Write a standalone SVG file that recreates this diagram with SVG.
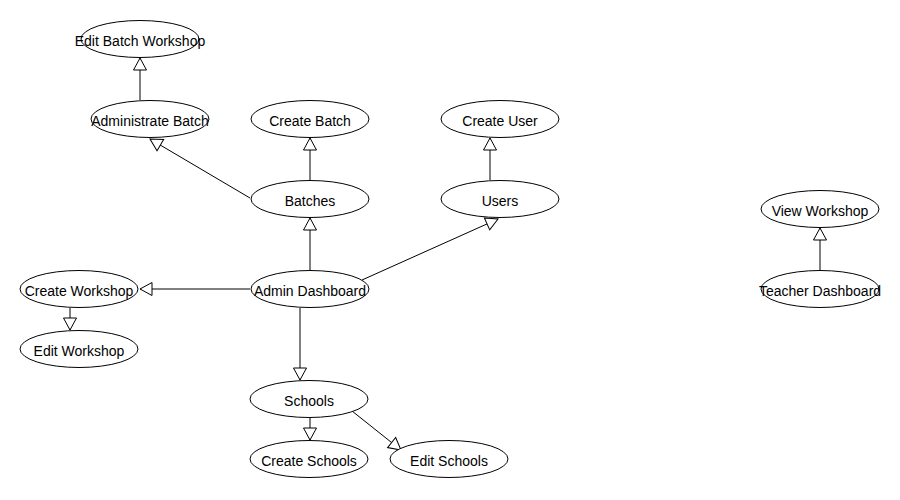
<svg xmlns="http://www.w3.org/2000/svg" width="900" height="500" viewBox="0 0 900 500">
<style>
.n ellipse{fill:#fff;stroke:#000;stroke-width:1}
.n text{font-family:"Liberation Sans",Arial,sans-serif;font-size:14px;fill:#000;text-anchor:middle;dominant-baseline:central}
.e line{stroke:#000;stroke-width:1;marker-end:url(#tri)}
</style>
<defs>
<marker id="tri" viewBox="-1 -1 14 15" refX="12" refY="6.5" markerWidth="14" markerHeight="15" markerUnits="userSpaceOnUse" orient="auto">
<path d="M0,0 L12,6.5 L0,13 Z" fill="#fff" stroke="#000" stroke-width="1"/>
</marker>
</defs>
<rect width="900" height="500" fill="#fff"/>
<g class="e" id="connectors">
<line x1="140" y1="100" x2="140" y2="58"/>
<line x1="310" y1="180" x2="310" y2="138"/>
<line x1="490" y1="180" x2="490" y2="138"/>
<line x1="250" y1="198" x2="150" y2="139"/>
<line x1="310" y1="270" x2="310" y2="218"/>
<line x1="362" y1="280" x2="498" y2="219"/>
<line x1="250" y1="289" x2="140" y2="289"/>
<line x1="70" y1="308" x2="70" y2="330"/>
<line x1="300" y1="308" x2="300" y2="380"/>
<line x1="310" y1="418" x2="310" y2="440"/>
<line x1="352" y1="411" x2="401" y2="450"/>
<line x1="820" y1="270" x2="820" y2="228"/>
</g>
<g class="n" id="edit-batch-workshop"><ellipse cx="140" cy="39" rx="59" ry="18.5"/><text x="140" y="41">Edit Batch Workshop</text></g>
<g class="n" id="administrate-batch"><ellipse cx="150" cy="119" rx="59" ry="18.5"/><text x="150" y="121">Administrate Batch</text></g>
<g class="n" id="create-batch"><ellipse cx="310" cy="119" rx="59" ry="18.5"/><text x="310" y="121">Create Batch</text></g>
<g class="n" id="create-user"><ellipse cx="500" cy="119" rx="59" ry="18.5"/><text x="500" y="121">Create User</text></g>
<g class="n" id="batches"><ellipse cx="310" cy="199" rx="59" ry="18.5"/><text x="310" y="201">Batches</text></g>
<g class="n" id="users"><ellipse cx="500" cy="199" rx="59" ry="18.5"/><text x="500" y="201">Users</text></g>
<g class="n" id="create-workshop"><ellipse cx="79" cy="289" rx="59" ry="18.5"/><text x="79" y="291">Create Workshop</text></g>
<g class="n" id="admin-dashboard"><ellipse cx="310" cy="289" rx="59" ry="18.5"/><text x="310" y="291">Admin Dashboard</text></g>
<g class="n" id="edit-workshop"><ellipse cx="79" cy="349" rx="59" ry="18.5"/><text x="79" y="351">Edit Workshop</text></g>
<g class="n" id="schools"><ellipse cx="309" cy="399" rx="59" ry="18.5"/><text x="309" y="401">Schools</text></g>
<g class="n" id="create-schools"><ellipse cx="309" cy="459" rx="59" ry="18.5"/><text x="309" y="461">Create Schools</text></g>
<g class="n" id="edit-schools"><ellipse cx="449" cy="459" rx="59" ry="18.5"/><text x="449" y="461">Edit Schools</text></g>
<g class="n" id="view-workshop"><ellipse cx="820" cy="209" rx="59" ry="18.5"/><text x="820" y="211">View Workshop</text></g>
<g class="n" id="teacher-dashboard"><ellipse cx="820" cy="289" rx="59" ry="18.5"/><text x="820" y="291">Teacher Dashboard</text></g>
</svg>
